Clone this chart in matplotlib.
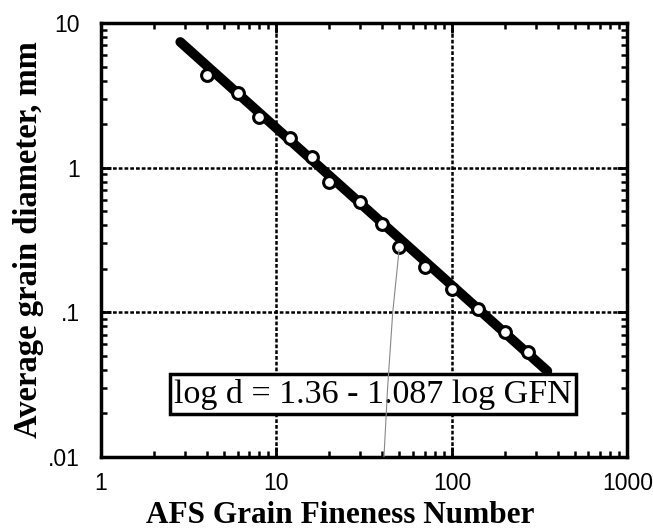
import numpy as np
import matplotlib.pyplot as plt
from matplotlib.ticker import LogLocator, FixedLocator, FixedFormatter, NullFormatter

# AFS grain fineness number vs. average grain diameter (mm)
gfn = [4, 6, 8, 12, 16, 20, 30, 40, 50, 70, 100, 140, 200, 270]
diam = [4.4, 3.3, 2.25, 1.6, 1.18, 0.80, 0.58, 0.41, 0.285, 0.205, 0.145, 0.105, 0.073, 0.053]

# fitted line: log d = 1.36 - 1.087 log GFN
a_fit = 1.36
b_fit = 1.087
fit_range = [2.83, 350]

# thin pencil leader under the plot
leader_x = [50, 46, 43, 41]
leader_y = [0.27, 0.1, 0.03, 0.01]

x_ticks = [1, 10, 100, 1000]
x_labels = ['1', '10', '100', '1000']
y_ticks = [0.01, 0.1, 1, 10]
y_labels = ['.01', '.1', '1', '10']

fig = plt.figure(figsize=(6.53, 5.29), dpi=100)
ax = fig.add_axes([0.1547, 0.1361, 0.806, 0.8204])
ax.set_xscale('log')
ax.set_yscale('log')
ax.set_xlim(1, 1000)
ax.set_ylim(0.01, 10)

gx = np.logspace(np.log10(fit_range[0]), np.log10(fit_range[1]), 50)
gy = 10 ** (a_fit - b_fit * np.log10(gx))
ax.plot(gx, gy, '-', color='black', lw=7, solid_capstyle='round', zorder=3)
ax.plot(gfn, diam, 'o', ms=8.5, mfc='white', mec='black', mew=2.2, zorder=4)
ax.plot(leader_x, leader_y, '-', color='#888888', lw=0.8, zorder=6)

# grid at the decades only
for v in [10, 100]:
    ax.axvline(v, color='black', lw=1.8, ls=(0, (1.5, 0.8)), zorder=1)
for v in [0.1, 1]:
    ax.axhline(v, color='black', lw=1.8, ls=(0, (1.5, 0.8)), zorder=1)

ax.xaxis.set_major_locator(FixedLocator(x_ticks))
ax.xaxis.set_major_formatter(FixedFormatter(x_labels))
ax.yaxis.set_major_locator(FixedLocator(y_ticks))
ax.yaxis.set_major_formatter(FixedFormatter(y_labels))
ax.xaxis.set_minor_locator(LogLocator(base=10, subs=np.arange(2, 10)))
ax.yaxis.set_minor_locator(LogLocator(base=10, subs=np.arange(2, 10)))
ax.xaxis.set_minor_formatter(NullFormatter())
ax.yaxis.set_minor_formatter(NullFormatter())

ax.tick_params(which='both', direction='in', top=True, right=True, color='black')
ax.tick_params(which='major', length=7, width=2, labelsize=16.5, pad=15)
ax.tick_params(axis='x', which='major', pad=11)
ax.tick_params(which='minor', length=4.5, width=1.8)
for lab in ax.get_xticklabels() + ax.get_yticklabels():
    lab.set_family('Liberation Sans')
for s in ax.spines.values():
    s.set_linewidth(2.5)

ax.set_xlabel('AFS Grain Fineness Number', family='Liberation Serif',
              fontweight='bold', fontsize=22.5, va='baseline')
ax.xaxis.set_label_coords(0.454, -0.151)
ax.set_ylabel('Average grain diameter, mm', family='Liberation Serif',
              fontweight='bold', fontsize=23.5, labelpad=3)

ax.text(0.517, 0.145, 'log d = %.2f - %.3f log GFN' % (a_fit, b_fit),
        transform=ax.transAxes, ha='center', va='center',
        family='Liberation Serif', fontsize=24.5, zorder=5,
        bbox=dict(boxstyle='square,pad=0.12', fc='white', ec='black', lw=2.5))

plt.savefig('out.png', dpi=100)
